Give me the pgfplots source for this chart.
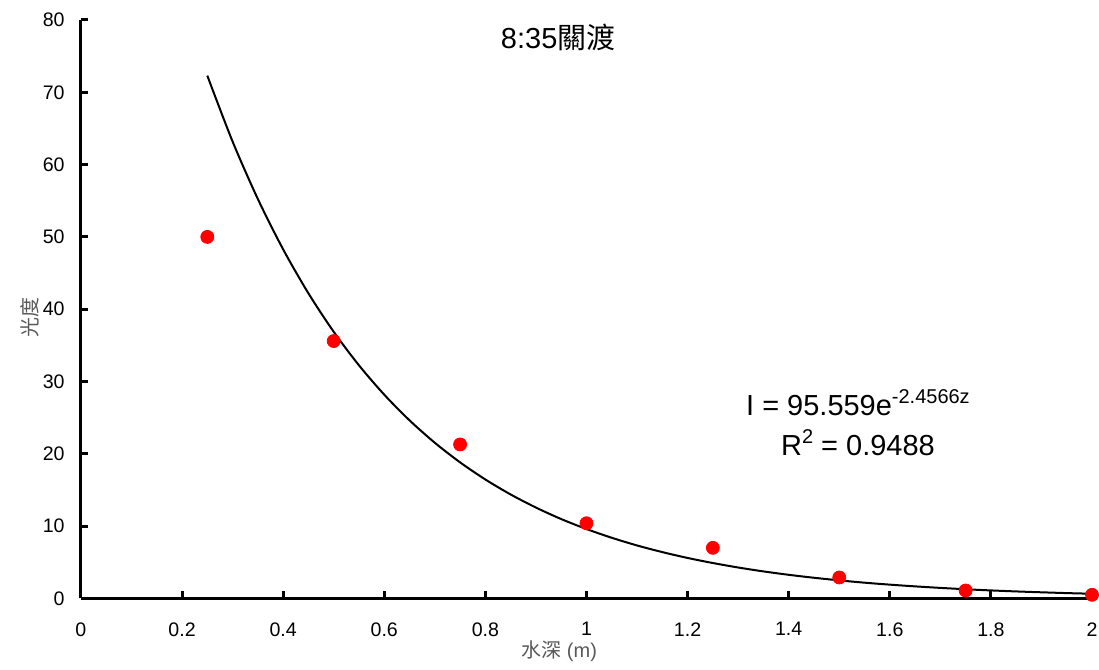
\documentclass[border=0pt]{standalone}
\usepackage{fontspec}
\setmainfont{Liberation Sans}
\newfontfamily\cjk{Noto Sans CJK TC}
\usepackage{pgfplots}
\pgfplotsset{compat=1.18}
\definecolor{labelgray}{HTML}{595959}
\newcommand{\eqsup}[1]{\raisebox{0.75ex}{\fontsize{10}{12}\selectfont #1}}

\begin{document}
\begin{tikzpicture}
\begin{axis}[
  scale only axis,
  width=506pt, height=289.5pt,
  xmin=0, xmax=2, ymin=0, ymax=80,
  axis x line=bottom, axis y line=left,
  axis line style={-, line width=1.5pt},
  every tick/.style={black, line width=1.5pt},
  tick align=inside,
  major tick length=3.5pt,
  xtick={0,0.2,...,2.01},
  ytick={0,10,...,80},
  /pgf/number format/assume math mode=true,
  ticklabel style={font=\fontsize{9.8}{11}\selectfont, inner xsep=0pt},
  xticklabel style={yshift=-8.5pt},
  yticklabel style={xshift=-8pt},
  xlabel={{\cjk 水深} (m)},
  ylabel={\cjk 光度},
  xlabel style={font=\fontsize{10}{12}\selectfont, text=labelgray,
    at={([yshift=-26.5pt]axis description cs:0.473,0)}, anchor=center},
  ylabel style={font=\fontsize{10}{12}\selectfont, text=labelgray,
    at={([xshift=-25.5pt]axis description cs:0,0.485)}, anchor=center},
  clip=false,
]
% measured light intensity
\addplot[only marks, mark=*, mark size=3.25pt, color=red, mark options={fill=red, draw=red}] coordinates {
  (0.25,50.0) (0.5,35.6) (0.75,21.3) (1.0,10.4) (1.25,7.0) (1.5,2.9) (1.75,1.1) (2.0,0.5)
};
% exponential trendline as drawn
\addplot[black, line width=1pt, smooth] coordinates {
  (0.25,72.30) (0.30,63.19) (0.35,55.24) (0.40,48.28) (0.45,42.20) (0.50,36.88)
  (0.55,32.24) (0.60,28.18) (0.65,24.63) (0.70,21.53) (0.75,18.82) (0.80,16.45)
  (0.85,14.38) (0.90,12.57) (0.95,10.98) (1.00,9.60) (1.05,8.39) (1.10,7.33)
  (1.15,6.41) (1.20,5.60) (1.25,4.90) (1.30,4.28) (1.35,3.74) (1.40,3.27)
  (1.45,2.86) (1.50,2.50) (1.55,2.18) (1.60,1.91) (1.65,1.67) (1.70,1.46)
  (1.75,1.27) (1.80,1.11) (1.85,0.97) (1.90,0.85) (1.95,0.74) (2.00,0.65)
};
\node[font=\fontsize{14.5}{17}\selectfont] at (axis description cs:0.472,0.969) {8:35{\cjk 關渡}};
\node[font=\fontsize{14.5}{17}\selectfont, align=center] at (axis cs:1.537,24.3)
  {I = 95.559e\eqsup{-2.4566z}\\[3pt] R\eqsup{2} = 0.9488};
\end{axis}
\path ([xshift=-40.5pt,yshift=-35.5pt]current axis.south west) rectangle ([xshift=3.5pt,yshift=10pt]current axis.north east);
\end{tikzpicture}
\end{document}
